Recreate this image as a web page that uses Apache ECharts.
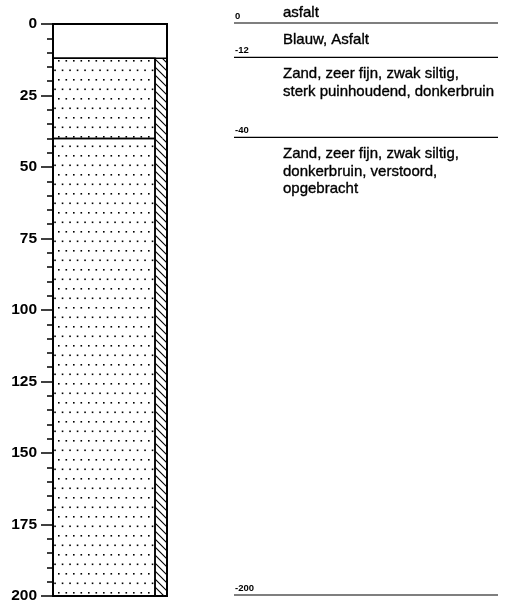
<!DOCTYPE html>
<html><head><meta charset="utf-8">
<script src="https://cdn.jsdelivr.net/npm/echarts@6/dist/echarts.min.js"></script>
<style>html,body{margin:0;padding:0;background:#fff}#c{width:508px;height:600px}</style>
</head><body><div id="c"></div>
<script>
// ---- data ----
const depthMin = 0, depthMax = 200, depthInterval = 25, minorPerInterval = 5;
const layerTop = [0, 12, 40];
const layerBottom = [12, 40, 200];
const layerDots = [false, true, true];
const layerHatch = [false, true, true];
const layerDesc = [
  'Blauw, Asfalt',
  'Zand, zeer fijn, zwak siltig,\nsterk puinhoudend, donkerbruin',
  'Zand, zeer fijn, zwak siltig,\ndonkerbruin, verstoord,\nopgebracht'
];
const boundaryDepth = [0, 12, 40, 200];
const boundaryLabel = ['0', '-12', '-40', '-200'];
const headerText = 'asfalt';

// ---- styles / patterns ----
const FONT = "'Liberation Sans', Arial, sans-serif";
function makeDots() {
  const c = document.createElement('canvas'); c.width = 15; c.height = 19;
  const g = c.getContext('2d'); g.fillStyle = '#000';
  const s = 1.6;
  g.fillRect(5.5, 3, s, s); g.fillRect(13, 3, s, s);
  g.fillRect(1.75, 12.5, s, s); g.fillRect(9.25, 12.5, s, s);
  return c;
}
function makeHatch() {
  const c = document.createElement('canvas'); c.width = 8; c.height = 8;
  const g = c.getContext('2d'); g.strokeStyle = '#000'; g.lineWidth = 1.1;
  g.beginPath();
  g.moveTo(-1, -1); g.lineTo(9, 9);
  g.moveTo(-1, 7); g.lineTo(1, 9);
  g.moveTo(7, -1); g.lineTo(9, 1);
  g.stroke();
  return c;
}
const dotPattern = { image: makeDots(), repeat: 'repeat' };
const hatchPattern = { image: makeHatch(), repeat: 'repeat' };
const HATCH_W = 12;
const descStyle = { fill: '#000', font: '15px ' + FONT, lineHeight: 17.5, textAlign: 'left',
  textVerticalAlign: 'top', stroke: '#000', lineWidth: 0.35 };

const layerData = layerTop.map((t, i) => [0, 1, t, layerBottom[i], i]);
const boundaryData = boundaryDepth.map((d, i) => [0, 1, d, i]);

const chart = echarts.init(document.getElementById('c'));
chart.setOption({
  animation: false,
  grid: [
    { left: 53, top: 24, width: 114, height: 572, outerBoundsMode: 'none', containLabel: false },
    { left: 234, top: 24, width: 264, height: 572, outerBoundsMode: 'none', containLabel: false }
  ],
  xAxis: [
    { gridIndex: 0, type: 'value', min: 0, max: 1, show: false },
    { gridIndex: 1, type: 'value', min: 0, max: 1, show: false }
  ],
  yAxis: [
    {
      gridIndex: 0, type: 'value', inverse: true, min: depthMin, max: depthMax,
      interval: depthInterval, position: 'left', offset: 2,
      axisLine: { show: false },
      axisTick: { show: true, length: 12, lineStyle: { color: '#000', width: 1.5 } },
      minorTick: { show: true, splitNumber: minorPerInterval, length: 6, lineStyle: { color: '#000', width: 1.5 } },
      splitLine: { show: false }, minorSplitLine: { show: false },
      axisLabel: { fontSize: 15.5, fontWeight: 'bold', color: '#000', margin: 14, fontFamily: FONT, hideOverlap: false }
    },
    { gridIndex: 1, type: 'value', inverse: true, min: depthMin, max: depthMax, show: false }
  ],
  series: [
    {
      type: 'custom', xAxisIndex: 0, yAxisIndex: 0, clip: false,
      data: layerData, encode: { x: [0, 1], y: [2, 3] },
      renderItem(params, api) {
        const top = api.value(2), bot = api.value(3), i = api.value(4);
        const a = api.coord([0, top]), b = api.coord([1, bot]);
        const x0 = a[0], x1 = b[0], y0 = a[1], y1 = b[1];
        const mainRight = layerHatch[i] ? x1 - HATCH_W : x1;
        const children = [{
          type: 'rect', shape: { x: x0, y: y0, width: mainRight - x0, height: y1 - y0 },
          style: { fill: layerDots[i] ? dotPattern : '#fff', stroke: '#000', lineWidth: 1.5 }
        }];
        if (layerHatch[i]) {
          children.push({ type: 'rect', shape: { x: mainRight, y: y0, width: HATCH_W, height: y1 - y0 },
            style: { fill: hatchPattern } });
          children.push({ type: 'line', shape: { x1: mainRight, y1: y0, x2: mainRight, y2: y1 },
            style: { stroke: '#000', lineWidth: 1.5 } });
        }
        return { type: 'group', children };
      }
    },
    {
      type: 'custom', xAxisIndex: 0, yAxisIndex: 0, clip: false,
      data: [[0, 1, layerTop[0], layerBottom[layerBottom.length - 1]]], encode: { x: [0, 1], y: [2, 3] },
      renderItem(params, api) {
        const a = api.coord([0, api.value(2)]), b = api.coord([1, api.value(3)]);
        return { type: 'rect', shape: { x: a[0], y: a[1], width: b[0] - a[0], height: b[1] - a[1] },
          style: { fill: 'none', stroke: '#000', lineWidth: 2 } };
      }
    },
    {
      type: 'custom', xAxisIndex: 1, yAxisIndex: 1, clip: false,
      data: boundaryData, encode: { x: [0, 1], y: [2] },
      renderItem(params, api) {
        const d = api.value(2), i = api.value(3);
        const a = api.coord([0, d]), b = api.coord([1, d]);
        return { type: 'group', children: [
          { type: 'line', shape: { x1: a[0], y1: a[1] - 1, x2: b[0], y2: b[1] - 1 }, style: { stroke: '#000', lineWidth: 1.2 } },
          { type: 'text', x: a[0] + 1, y: a[1] - 3, style: { text: boundaryLabel[i], fill: '#000',
            font: 'bold 9.5px ' + FONT, textAlign: 'left', textVerticalAlign: 'bottom' } }
        ] };
      }
    },
    {
      type: 'custom', xAxisIndex: 1, yAxisIndex: 1, clip: false,
      data: layerData, encode: { x: [0, 1], y: [2, 3] },
      renderItem(params, api) {
        const top = api.value(2), i = api.value(4);
        const a = api.coord([0, top]);
        const items = [{ type: 'text', x: a[0] + 49, y: a[1] + 7,
          style: Object.assign({ text: layerDesc[i] }, descStyle) }];
        if (i === 0) {
          items.push({ type: 'text', x: a[0] + 49, y: a[1] - 20,
            style: Object.assign({ text: headerText }, descStyle) });
        }
        return { type: 'group', children: items };
      }
    }
  ]
});
</script>
</body></html>
